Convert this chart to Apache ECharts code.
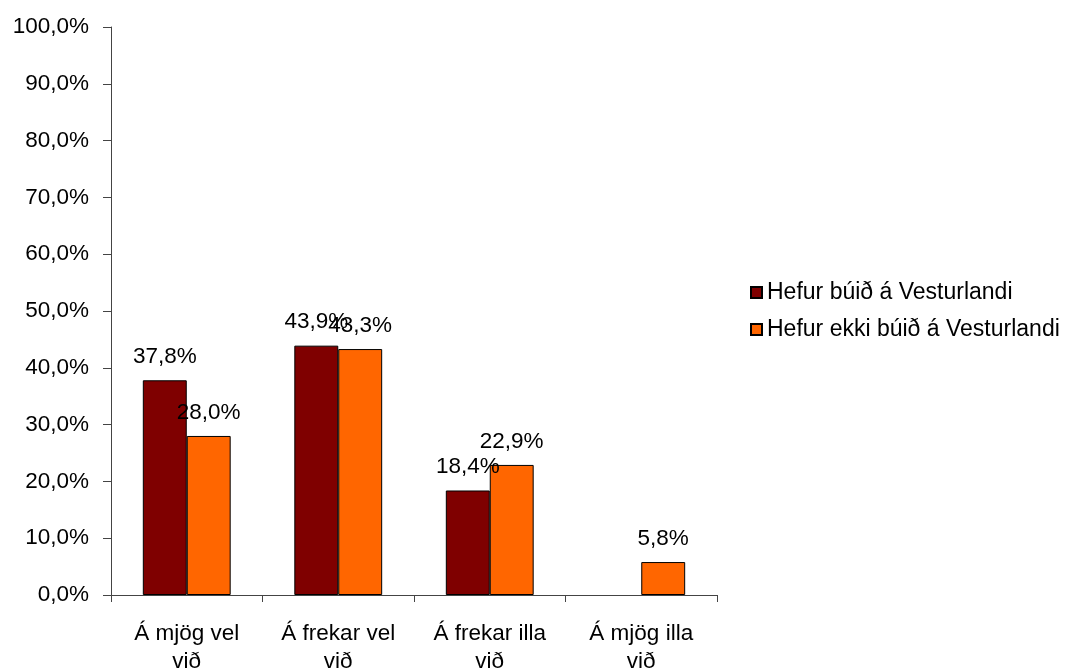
<!DOCTYPE html>
<html>
<head>
<meta charset="utf-8">
<script src="https://cdn.jsdelivr.net/npm/echarts@6/dist/echarts.min.js"></script>
<style>
  html, body { margin: 0; padding: 0; background: #ffffff; }
  #chart { width: 1077px; height: 671px; }
</style>
</head>
<body>
<div id="chart"></div>
<script>
// Answer categories (two-line labels)
const categories = ['Á mjög vel\nvið', 'Á frekar vel\nvið', 'Á frekar illa\nvið', 'Á mjög illa\nvið'];
// Percent shares per group
const seriesNames = ['Hefur búið á Vesturlandi', 'Hefur ekki búið á Vesturlandi'];
const livedValues = [37.8, 43.9, 18.4, null];
const notLivedValues = [28.0, 43.3, 22.9, 5.8];
const colors = ['#7f0000', '#ff6600'];

const FONT = '"Liberation Sans", Arial, sans-serif';
const FS = 22.5;
const AXIS_COLOR = '#444444';
const pct = v => v.toFixed(1).replace('.', ',') + '%';

const chart = echarts.init(document.getElementById('chart'), null, { renderer: 'canvas' });

const labelStyle = {
  show: true,
  position: 'top',
  distance: 12,
  color: '#000',
  fontFamily: FONT,
  fontSize: FS,
  formatter: p => (p.value == null ? '' : pct(p.value))
};

chart.setOption({
  animation: false,
  backgroundColor: '#ffffff',
  grid: { left: 111, right: 360, top: 27, bottom: 76, containLabel: false, outerBoundsMode: 'none' },
  legend: {
    orient: 'vertical',
    left: 745,
    top: 276,
    itemWidth: 11,
    itemHeight: 11,
    itemGap: 14,
    icon: 'rect',
    textStyle: { color: '#000', fontFamily: FONT, fontSize: 23 },
    data: seriesNames
  },
  xAxis: {
    type: 'category',
    data: categories,
    axisLine: { lineStyle: { color: AXIS_COLOR, width: 1 } },
    axisTick: { show: true, alignWithLabel: false, length: 7, lineStyle: { color: AXIS_COLOR } },
    axisLabel: { color: '#000', fontFamily: FONT, fontSize: FS, lineHeight: 28, margin: 25 }
  },
  yAxis: {
    type: 'value',
    min: 0,
    max: 100,
    interval: 10,
    axisLine: { show: true, lineStyle: { color: AXIS_COLOR, width: 1 } },
    axisTick: { show: true, length: 8, lineStyle: { color: AXIS_COLOR } },
    splitLine: { show: false },
    axisLabel: { color: '#000', fontFamily: FONT, fontSize: FS, margin: 22, formatter: v => pct(v) }
  },
  series: [
    {
      name: seriesNames[0],
      type: 'bar',
      data: livedValues,
      barGap: '0%',
      barCategoryGap: '42%',
      itemStyle: { color: colors[0], borderColor: '#000', borderWidth: 1 },
      label: labelStyle
    },
    {
      name: seriesNames[1],
      type: 'bar',
      data: notLivedValues,
      barGap: '0%',
      barCategoryGap: '42%',
      itemStyle: { color: colors[1], borderColor: '#000', borderWidth: 1 },
      label: labelStyle
    }
  ]
});
</script>
</body>
</html>
